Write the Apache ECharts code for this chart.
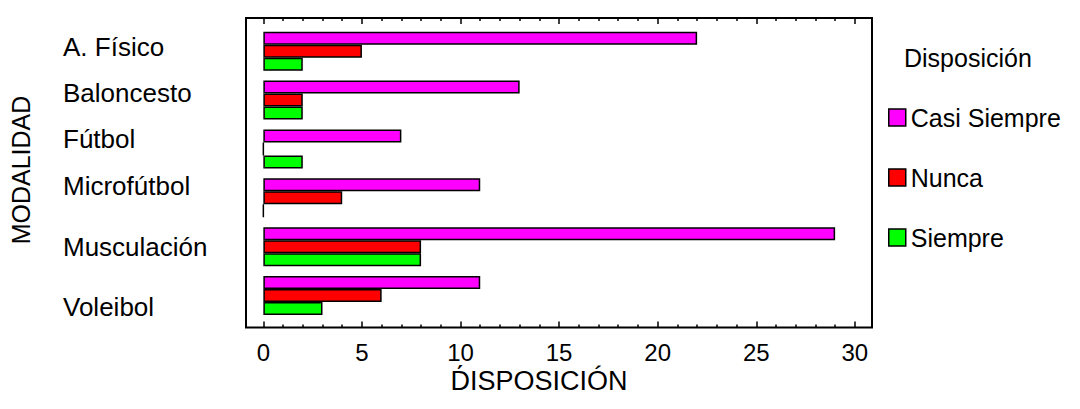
<!DOCTYPE html>
<html>
<head>
<meta charset="utf-8">
<script src="https://cdn.jsdelivr.net/npm/echarts@6/dist/echarts.min.js"></script>
<style>
  html, body { margin: 0; padding: 0; background: #fff; }
  #chart { width: 1080px; height: 409px; }
</style>
</head>
<body>
<div id="chart"></div>
<script>
// Categories (top to bottom) and series values
const modalidades = ['A. Físico', 'Baloncesto', 'Fútbol', 'Microfútbol', 'Musculación', 'Voleibol'];
const casiSiempre = [22, 13, 7, 11, 29, 11];
const nunca = [5, 2, 0, 4, 8, 6];
const siempre = [2, 2, 2, 0, 8, 3];
const seriesNames = ['Casi Siempre', 'Nunca', 'Siempre'];
const majorTicks = [0, 5, 10, 15, 20, 25, 30];
const minorTicks = [];
for (let v = 0; v <= 30; v++) if (v % 5 !== 0) minorTicks.push(v);

const FONT = "'Liberation Sans', Arial, sans-serif";
const XMIN = -0.88, XMAX = 30.87;
// vertical nudges (px) for each category label
const labelShift = [-4, -7.5, -10, -12, 0, 11.5];

const rich = {};
labelShift.forEach((d, i) => {
  rich['l' + i] = {
    fontFamily: FONT, fontSize: 26, color: '#000',
    padding: d < 0 ? [0, 0, -2 * d, 0] : [2 * d, 0, 0, 0]
  };
});

const barBorder = { borderColor: '#000', borderWidth: 1.5 };

function frameAxis(position, values, len, withLabels) {
  return {
    type: 'value', gridIndex: 1, position: position, min: XMIN, max: XMAX,
    axisLine: { show: false },
    splitLine: { show: false },
    axisTick: { show: true, inside: true, length: len, customValues: values,
                lineStyle: { color: '#000', width: 1.5 } },
    axisLabel: withLabels
      ? { show: true, customValues: values, margin: 13, fontFamily: FONT, fontSize: 24, color: '#000' }
      : { show: false }
  };
}

const chart = echarts.init(document.getElementById('chart'), null, { renderer: 'svg' });
chart.setOption({
  animation: false,
  backgroundColor: '#fff',
  grid: [
    { left: 246, right: 208, top: 26.8, bottom: 89.1 },
    { left: 246, right: 208, top: 18, bottom: 81.5, show: true,
      borderColor: '#000', borderWidth: 2, backgroundColor: 'transparent' }
  ],
  xAxis: [
    { type: 'value', gridIndex: 0, min: XMIN, max: XMAX, show: false },
    frameAxis('bottom', majorTicks, 6, true),
    frameAxis('bottom', minorTicks, 3, false),
    frameAxis('top', majorTicks, 6, false),
    frameAxis('top', minorTicks, 3, false)
  ],
  yAxis: [
    {
      type: 'category', gridIndex: 0, data: modalidades, inverse: true,
      axisLine: { show: false }, axisTick: { show: false },
      axisLabel: {
        align: 'left', margin: 183,
        formatter: (v, i) => '{l' + i + '|' + v + '}',
        rich: rich
      }
    },
    { type: 'value', gridIndex: 1, show: false }
  ],
  title: {
    text: 'Disposición', left: 899, top: 40,
    textStyle: { fontFamily: FONT, fontSize: 25, fontWeight: 'normal', color: '#000' }
  },
  legend: {
    orient: 'vertical', left: 883, top: 100,
    itemWidth: 17, itemHeight: 17, itemGap: 35,
    icon: 'rect',
    data: seriesNames,
    itemStyle: { borderColor: '#000', borderWidth: 1.5 },
    textStyle: { fontFamily: FONT, fontSize: 25, color: '#000', lineHeight: 25 }
  },
  graphic: [
    { type: 'text', x: 21, y: 170, rotation: Math.PI / 2,
      style: { text: 'MODALIDAD', align: 'center', verticalAlign: 'middle',
               font: '25px ' + FONT, fill: '#000' } },
    { type: 'text', x: 539, y: 381,
      style: { text: 'D\u0301ISPOSICIÓN', align: 'center', verticalAlign: 'middle',
               font: '27px ' + FONT, fill: '#000' } }
  ],
  series: [
    { name: seriesNames[0], type: 'bar', xAxisIndex: 0, yAxisIndex: 0, data: casiSiempre,
      barWidth: 13, barGap: '0%', itemStyle: Object.assign({ color: '#ff00ff' }, barBorder) },
    { name: seriesNames[1], type: 'bar', xAxisIndex: 0, yAxisIndex: 0, data: nunca,
      barWidth: 13, barGap: '0%', itemStyle: Object.assign({ color: '#ff0000' }, barBorder) },
    { name: seriesNames[2], type: 'bar', xAxisIndex: 0, yAxisIndex: 0, data: siempre,
      barWidth: 13, barGap: '0%', itemStyle: Object.assign({ color: '#00ff00' }, barBorder) }
  ]
});
</script>
</body>
</html>
